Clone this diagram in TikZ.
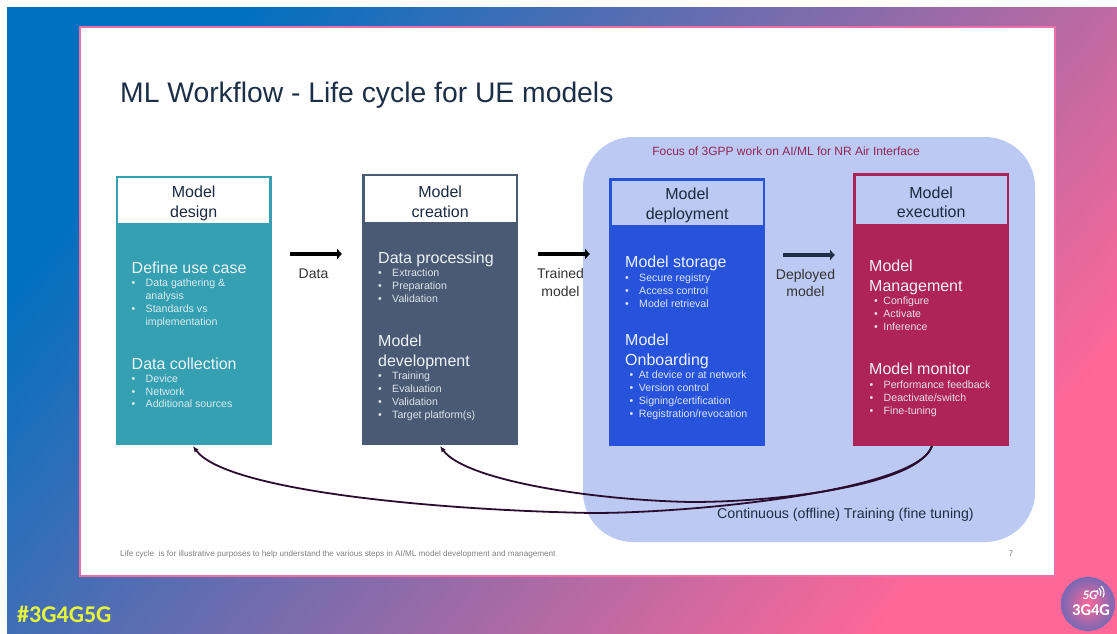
\documentclass[tikz,border=0pt]{standalone}
\usepackage{fontspec}
\setmainfont{Liberation Sans}
\newfontfamily\tagfont{Carlito}
\usepackage{xcolor}
\usetikzlibrary{arrows.meta}
\definecolor{BgBlue}{HTML}{0070C0}
\definecolor{BgPink}{HTML}{FF6798}
\definecolor{FrameInk}{HTML}{EE6FA6}
\definecolor{FocusBlue}{HTML}{BCC9F2}
\definecolor{TitleInk}{HTML}{1D2F47}
\definecolor{DesignTeal}{HTML}{36A0B3}
\definecolor{CreationSlate}{HTML}{4A5A75}
\definecolor{DeployBlue}{HTML}{2753DC}
\definecolor{ExecCrimson}{HTML}{AE2459}
\definecolor{LoopInk}{HTML}{2A0C2E}
\definecolor{BoxText}{HTML}{EDF3F6}
\definecolor{LogoOuter}{HTML}{7868B4}
\definecolor{TagInk}{HTML}{E4F53A}
\tikzset{
	stagebody/.style={draw=none,anchor=north west,minimum width=156pt,inner sep=0pt},
	stagehead/.style={fill=white,anchor=north west,minimum width=151pt,inner sep=0pt,align=center,font=\fontsize{16}{19.5}\selectfont,text=TitleInk!90!black},
	mainitem/.style={anchor=north west,inner sep=0pt,align=left,text=BoxText,font=\fontsize{16}{19.7}\selectfont},
	subitem/.style={anchor=north west,inner sep=0pt,align=left,text=BoxText,text opacity=0.9,font=\fontsize{10.6}{12.8}\selectfont},
	steplabel/.style={inner sep=0pt,align=center,text=black!80,font=\fontsize{14}{17.5}\selectfont},
	steparrow/.style={line width=3.2pt,-{Latex[length=5pt,width=12pt]}},
	looparrow/.style={line width=1.8pt,LoopInk,-{Latex[length=6pt,width=5pt]}},
	smallnote/.style={inner sep=0pt,text=black!50,font=\fontsize{8.15}{10}\selectfont}
}
% two lines of a stage heading, set a little low in the box
\newcommand{\headrows}[2]{\rule{0pt}{17pt}#1\\#2}
% bullet rows of the stage lists
\newcommand{\wideitem}[1]{\textbullet\hspace{10.3pt}#1}
\newcommand{\tightitem}[1]{\textbullet\hspace{5.5pt}#1}
\newcommand{\itemcont}[1]{\hspace{13.9pt}#1}
\begin{document}
\begin{tikzpicture}[x=1pt,y=-1pt]
	\useasboundingbox (0,0) rectangle (1117,633);
	\fill[white] (0,0) rectangle (1117,633);
	\shade[left color=BgBlue,right color=BgPink,shading angle=50] (7,7) rectangle (1117,633);
	\fill[white,draw=FrameInk,line width=2.5pt] (80,27) rectangle (1055,576);

	\node[anchor=west,inner sep=0pt,text=TitleInk,font=\fontsize{28.3}{32}\selectfont] (Title) at (120,95) {ML Workflow - Life cycle for UE models};

	% focus area behind the two right stages
	\fill[FocusBlue,rounded corners=50pt] (583,137) rectangle (1035,542);
	\node[inner sep=0pt,text=ExecCrimson!80!TitleInk,font=\fontsize{12}{14}\selectfont] (FocusNote) at (786,151) {Focus of 3GPP work on AI/ML for NR Air Interface};

	% stages
	\node[stagebody,fill=DesignTeal,minimum height=269pt] (Design) at (115.5,176) {};
	\node[stagehead,minimum height=44.5pt] (DesignHead) at (118,178) {\headrows{Model}{design}};
	\node[stagebody,fill=CreationSlate,minimum height=271pt] (Creation) at (362,174) {};
	\node[stagehead,minimum height=46pt] (CreationHead) at (364.5,176) {\headrows{Model}{creation}};
	\node[stagebody,fill=DeployBlue,minimum height=268pt] (Deploy) at (609,178) {};
	\node[stagehead,fill=FocusBlue,minimum height=44pt] (DeployHead) at (611.5,180.5) {\headrows{Model}{deployment}};
	\node[stagebody,fill=ExecCrimson,minimum height=273pt] (Exec) at (853,173) {};
	\node[stagehead,minimum height=48pt,fill=FocusBlue] (ExecHead) at (855.5,175.5) {\headrows{Model}{execution}};

	% text of the stages
	\node[mainitem] (UseCase) at (131.5,262) {Define use case};
	\node[subitem] (UseCaseList) at (131.5,279) {\wideitem{Data gathering \&}\\\itemcont{analysis}\\\wideitem{Standards vs}\\\itemcont{implementation}};
	\node[mainitem] (Collection) at (131.5,358) {Data collection};
	\node[subitem] (CollectionList) at (131.5,374.5) {\wideitem{Device}\\\wideitem{Network}\\\wideitem{Additional sources}};

	\node[mainitem] (Processing) at (378,252) {Data processing};
	\node[subitem] (ProcessingList) at (378,269) {\wideitem{Extraction}\\\wideitem{Preparation}\\\wideitem{Validation}};
	\node[mainitem] (Development) at (378,335) {Model\\development};
	\node[subitem] (DevelopmentList) at (378,372) {\wideitem{Training}\\\wideitem{Evaluation}\\\wideitem{Validation}\\\wideitem{Target platform(s)}};

	\node[mainitem] (Storage) at (625,256) {Model storage};
	\node[subitem] (StorageList) at (625,274) {\wideitem{Secure registry}\\\wideitem{Access control}\\\wideitem{Model retrieval}};
	\node[mainitem] (Onboarding) at (625,333.5) {Model\\Onboarding};
	\node[subitem] (OnboardingList) at (629.5,371) {\tightitem{At device or at network}\\\tightitem{Version control}\\\tightitem{Signing/certification}\\\tightitem{Registration/revocation}};

	\node[mainitem] (Management) at (869,260) {Model\\Management};
	\node[subitem] (ManagementList) at (874,297) {\tightitem{Configure}\\\tightitem{Activate}\\\tightitem{Inference}};
	\node[mainitem] (Monitor) at (869,362.5) {Model monitor};
	\node[subitem] (MonitorList) at (869.5,381) {\wideitem{Performance feedback}\\\wideitem{Deactivate/switch}\\\wideitem{Fine-tuning}};

	% arrows between the stages
	\coordinate (DataFrom) at (290,254);
	\coordinate (DataTo) at (342,254);
	\coordinate (TrainedFrom) at (538,254);
	\coordinate (TrainedTo) at (590,254);
	\coordinate (DeployedFrom) at (783,255);
	\coordinate (DeployedTo) at (835,255);
	\draw[steparrow,black] (DataFrom) -- (DataTo);
	\draw[steparrow,black] (TrainedFrom) -- (TrainedTo);
	\draw[steparrow,TitleInk] (DeployedFrom) -- (DeployedTo);
	\node[steplabel] (DataText) at (313.5,274) {Data};
	\node[steplabel] (TrainedText) at (560.5,282.5) {Trained\\model};
	\node[steplabel] (DeployedText) at (805.5,283) {Deployed\\model};

	% training loops, back from execution
	\coordinate (LoopStart) at (932,446);
	\coordinate (DesignEnd) at (193,446);
	\coordinate (CreationEnd) at (440,446);
	\draw[looparrow] (LoopStart) .. controls (918,490) and (700,513) .. (592,513) .. controls (430,510) and (225,490) .. (DesignEnd);
	\draw[looparrow] (LoopStart) .. controls (918,485) and (780,502) .. (691,502) .. controls (590,500) and (465,480) .. (CreationEnd);

	\node[anchor=west,inner sep=0pt,text=TitleInk,font=\fontsize{14.2}{16}\selectfont] (LoopText) at (717,515) {Continuous (offline) Training (fine tuning)};

	\node[smallnote,anchor=west] (Footnote) at (120,554) {Life cycle\ \ is for illustrative purposes to help understand the various steps in AI/ML model development and management};
	\node[smallnote] (PageNo) at (1011,554) {7};

	\node[anchor=west,inner sep=0pt,text=TagInk,font=\tagfont\bfseries\fontsize{24}{26}\selectfont] (HashTag) at (17,614) {\#3G4G5G};

	% logo disc
	\shade[inner color=BgPink,outer color=LogoOuter] (1088,604) circle (27);
	\node[inner sep=0pt,text=white,font=\tagfont\bfseries\itshape\fontsize{13}{13}\selectfont] (LogoTop) at (1090,595) {5G};
	\node[inner sep=0pt,text=white,font=\tagfont\bfseries\fontsize{16.5}{17}\selectfont] (LogoBottom) at (1091,610) {3G4G};
	\foreach \r in {4,7,10}{
		\draw[white,line width=1.2pt] (1094,593) ++(25:\r) arc[start angle=25,end angle=-45,radius=\r];
	}
\end{tikzpicture}
\end{document}
